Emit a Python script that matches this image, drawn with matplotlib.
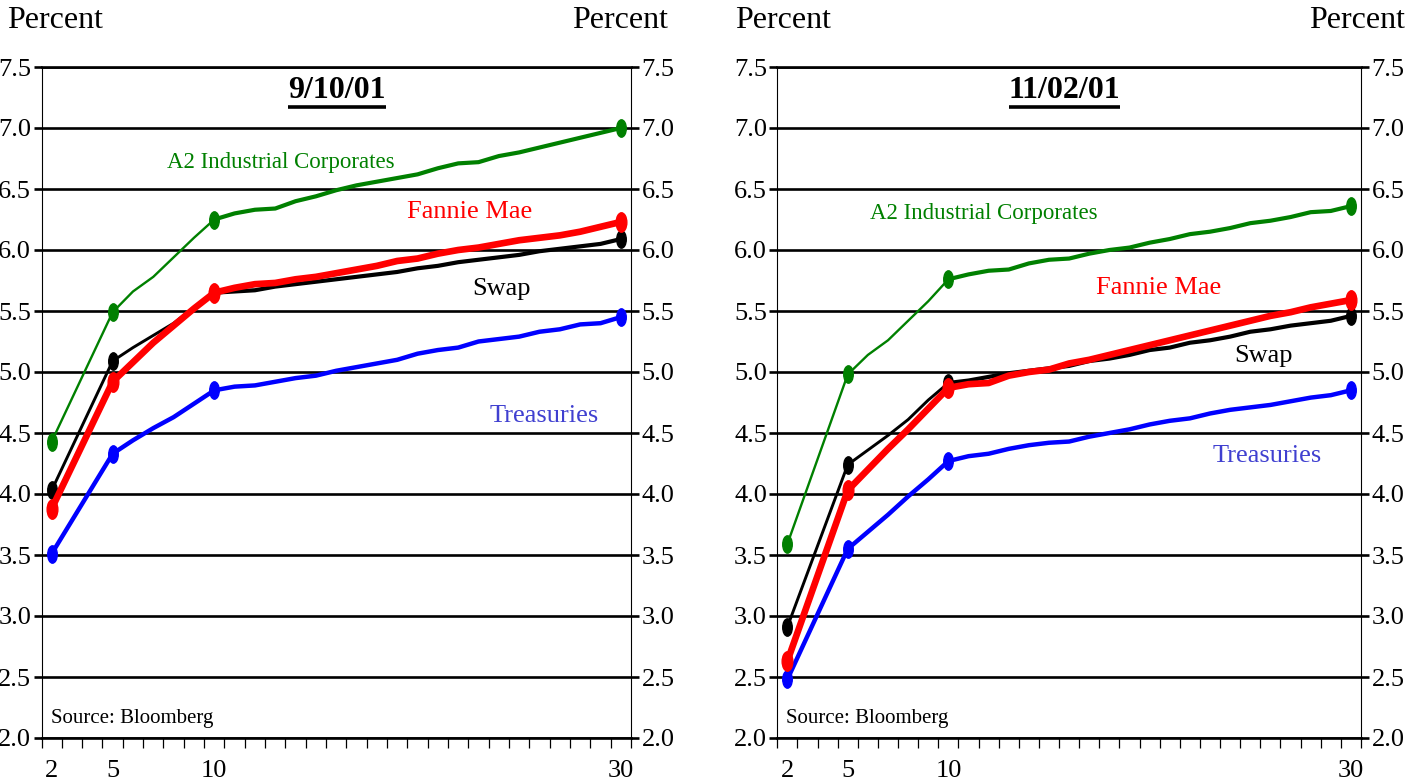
import matplotlib
matplotlib.use('Agg')
import matplotlib.pyplot as plt
from matplotlib.path import Path
from matplotlib.transforms import Affine2D
from matplotlib.ticker import FixedLocator, NullFormatter

plt.rcParams['font.family'] = ['Liberation Serif', 'DejaVu Serif']

# ---------------- data ----------------
maturities = [2, 5, 6, 7, 8, 9, 10, 11, 12, 13, 14, 15, 16, 17, 18, 19, 20,
              21, 22, 23, 24, 25, 26, 27, 28, 29, 30]
marker_maturities = [2, 5, 10, 30]
x_tick_labels = ['2', '5', '10', '30']
y_ticks = [2.0, 2.5, 3.0, 3.5, 4.0, 4.5, 5.0, 5.5, 6.0, 6.5, 7.0, 7.5]

# 9/10/01
sep_corp = [4.43, 5.49, 5.66, 5.78, 5.94, 6.10, 6.25, 6.30, 6.33, 6.34, 6.40, 6.44, 6.49, 6.53,
            6.56, 6.59, 6.62, 6.67, 6.71, 6.72, 6.77, 6.80, 6.84, 6.88, 6.92, 6.96, 7.00]
sep_fannie = [3.88, 4.92, 5.08, 5.24, 5.38, 5.52, 5.65, 5.69, 5.72, 5.73, 5.76, 5.78, 5.81, 5.84,
              5.87, 5.91, 5.93, 5.97, 6.00, 6.02, 6.05, 6.08, 6.10, 6.12, 6.15, 6.19, 6.23]
sep_swap = [4.03, 5.09, 5.20, 5.30, 5.40, 5.53, 5.65, 5.66, 5.67, 5.70, 5.72, 5.74, 5.76, 5.78,
            5.80, 5.82, 5.85, 5.87, 5.90, 5.92, 5.94, 5.96, 5.99, 6.01, 6.03, 6.05, 6.09]
sep_tsy = [3.51, 4.33, 4.44, 4.54, 4.63, 4.74, 4.85, 4.88, 4.89, 4.92, 4.95, 4.97, 5.01, 5.04,
           5.07, 5.10, 5.15, 5.18, 5.20, 5.25, 5.27, 5.29, 5.33, 5.35, 5.39, 5.40, 5.45]

# 11/02/01
nov_corp = [3.59, 4.98, 5.14, 5.26, 5.42, 5.58, 5.76, 5.80, 5.83, 5.84, 5.89, 5.92, 5.93, 5.97,
            6.00, 6.02, 6.06, 6.09, 6.13, 6.15, 6.18, 6.22, 6.24, 6.27, 6.31, 6.32, 6.36]
nov_fannie = [2.63, 4.03, 4.20, 4.37, 4.53, 4.70, 4.87, 4.90, 4.91, 4.97, 5.00, 5.02, 5.07, 5.10,
              5.14, 5.18, 5.22, 5.26, 5.30, 5.34, 5.38, 5.42, 5.46, 5.49, 5.53, 5.56, 5.59]
nov_swap = [2.91, 4.24, 4.36, 4.48, 4.61, 4.77, 4.91, 4.93, 4.96, 4.99, 5.01, 5.03, 5.05, 5.09,
            5.11, 5.14, 5.18, 5.20, 5.24, 5.26, 5.29, 5.33, 5.35, 5.38, 5.40, 5.42, 5.46]
nov_tsy = [2.48, 3.55, 3.69, 3.83, 3.98, 4.12, 4.27, 4.31, 4.33, 4.37, 4.40, 4.42, 4.43, 4.47,
           4.50, 4.53, 4.57, 4.60, 4.62, 4.66, 4.69, 4.71, 4.73, 4.76, 4.79, 4.81, 4.85]

titles = ['9/10/01', '11/02/01']
series_names = ['A2 Industrial Corporates', 'Fannie Mae', 'Swap', 'Treasuries']
source_text = 'Source: Bloomberg'
axis_label = 'Percent'

# ---------------- styling ----------------
GREEN = '#008000'
RED = '#ff0000'
BLACK = '#000000'
BLUE = '#0000ff'
TSY_TXT = '#4040d0'

ell = Path.unit_circle().transformed(Affine2D().scale(0.55, 1.0))

fig = plt.figure(figsize=(14.09, 7.81), dpi=100)
ax_l = fig.add_axes([41.5 / 1409, 1 - 738 / 781, 589.5 / 1409, 671 / 781])
ax_r = fig.add_axes([777.3 / 1409, 1 - 738 / 781, 583.7 / 1409, 671 / 781])

panels = [
    (ax_l, sep_corp, sep_fannie, sep_swap, sep_tsy, titles[0],
     {'corp': (13.26, 6.72), 'fannie': (22.57, 6.31), 'swap': (24.15, 5.68), 'tsy': (26.23, 4.64),
      'title': (16.03, 7.31)}),
    (ax_r, nov_corp, nov_fannie, nov_swap, nov_tsy, titles[1],
     {'corp': (11.75, 6.30), 'fannie': (20.46, 5.69), 'swap': (25.68, 5.13), 'tsy': (25.86, 4.31),
      'title': (15.76, 7.31)}),
]

mk_idx = [maturities.index(m) for m in marker_maturities]
i10 = maturities.index(10)

title_texts = []
for ax, corp, fannie, swap, tsy, title, pos in panels:
    ax.set_xlim(1.5, 30.5)
    ax.set_ylim(2.0, 7.5)

    # curves (thin short end, thicker long end where the source does so)
    kw = dict(solid_capstyle='round', solid_joinstyle='round')
    ax.plot(maturities[:i10 + 1], corp[:i10 + 1], color=GREEN, lw=1.7, zorder=3, **kw)
    ax.plot(maturities[i10:], corp[i10:], color=GREEN, lw=3.0, zorder=3, **kw)
    ax.plot(maturities[:i10 + 1], swap[:i10 + 1], color=BLACK, lw=2.1, zorder=4, **kw)
    ax.plot(maturities[i10:], swap[i10:], color=BLACK, lw=3.0, zorder=4, **kw)
    ax.plot(maturities, fannie, color=RED, lw=4.8, zorder=5, **kw)
    ax.plot(maturities, tsy, color=BLUE, lw=3.2, zorder=3, **kw)

    # markers
    for ys, col, ms, z in [(corp, GREEN, 12.5, 3.5), (swap, BLACK, 12.5, 4.5),
                           (fannie, RED, 14, 5.5), (tsy, BLUE, 12.5, 3.5)]:
        ax.plot([maturities[i] for i in mk_idx], [ys[i] for i in mk_idx], ls='none',
                marker=ell, ms=ms, color=col, mec=col, zorder=z)

    # grid / spines
    ax.yaxis.set_major_locator(FixedLocator(y_ticks))
    ax.set_yticklabels([f'{v:.1f}' for v in y_ticks])
    ax.grid(axis='y', color='black', lw=1.9, zorder=1)
    ax.grid(axis='x', visible=False)
    for s in ['top', 'bottom']:
        ax.spines[s].set_linewidth(1.9)
    for s in ['left', 'right']:
        ax.spines[s].set_linewidth(0.8)
    ax.tick_params(axis='y', which='major', direction='out', length=6, width=1.9,
                   left=True, right=True, labelleft=True, labelright=True,
                   labelsize=19, pad=1.5)

    ax.xaxis.set_major_locator(FixedLocator(marker_maturities))
    ax.set_xticklabels(x_tick_labels)
    ax.xaxis.set_minor_locator(FixedLocator([1.5 + k for k in range(30)]))
    ax.xaxis.set_minor_formatter(NullFormatter())
    ax.tick_params(axis='x', which='major', length=0, labelsize=19, pad=16)
    ax.tick_params(axis='x', which='minor', direction='out', length=7.5, width=0.9)

    # series labels
    ax.text(*pos['corp'], series_names[0], color=GREEN, fontsize=16.5, ha='center', va='center')
    ax.text(*pos['fannie'], series_names[1], color=RED, fontsize=19, ha='center', va='center')
    ax.text(*pos['swap'], series_names[2], color=BLACK, fontsize=19, ha='center', va='center')
    ax.text(*pos['tsy'], series_names[3], color=TSY_TXT, fontsize=19, ha='center', va='center')
    ax.text(1.95, 2.16, source_text, color='black', fontsize=15, ha='left', va='center')

    t = ax.text(*pos['title'], title, fontsize=23, fontweight='bold', ha='center', va='center')
    title_texts.append((ax, t))

# "Percent" labels
fig.text(7 / 1409, 1 - 21 / 781, axis_label, fontsize=23, ha='left', va='center')
fig.text(668 / 1409, 1 - 21 / 781, axis_label, fontsize=23, ha='right', va='center')
fig.text(735 / 1409, 1 - 21 / 781, axis_label, fontsize=23, ha='left', va='center')
fig.text(1405 / 1409, 1 - 21 / 781, axis_label, fontsize=23, ha='right', va='center')

# underline the panel titles
fig.canvas.draw()
renderer = fig.canvas.get_renderer()
for ax, t in title_texts:
    bb = t.get_window_extent(renderer)
    inv = ax.transAxes.inverted()
    (x0, y0), (x1, _) = inv.transform([(bb.x0, bb.y0), (bb.x1, bb.y0)])
    ax.plot([x0, x1], [y0 - 0.004, y0 - 0.004], transform=ax.transAxes, color='black',
            lw=2.6, solid_capstyle='butt', clip_on=False, zorder=6)

fig.savefig('out.png', dpi=100)
